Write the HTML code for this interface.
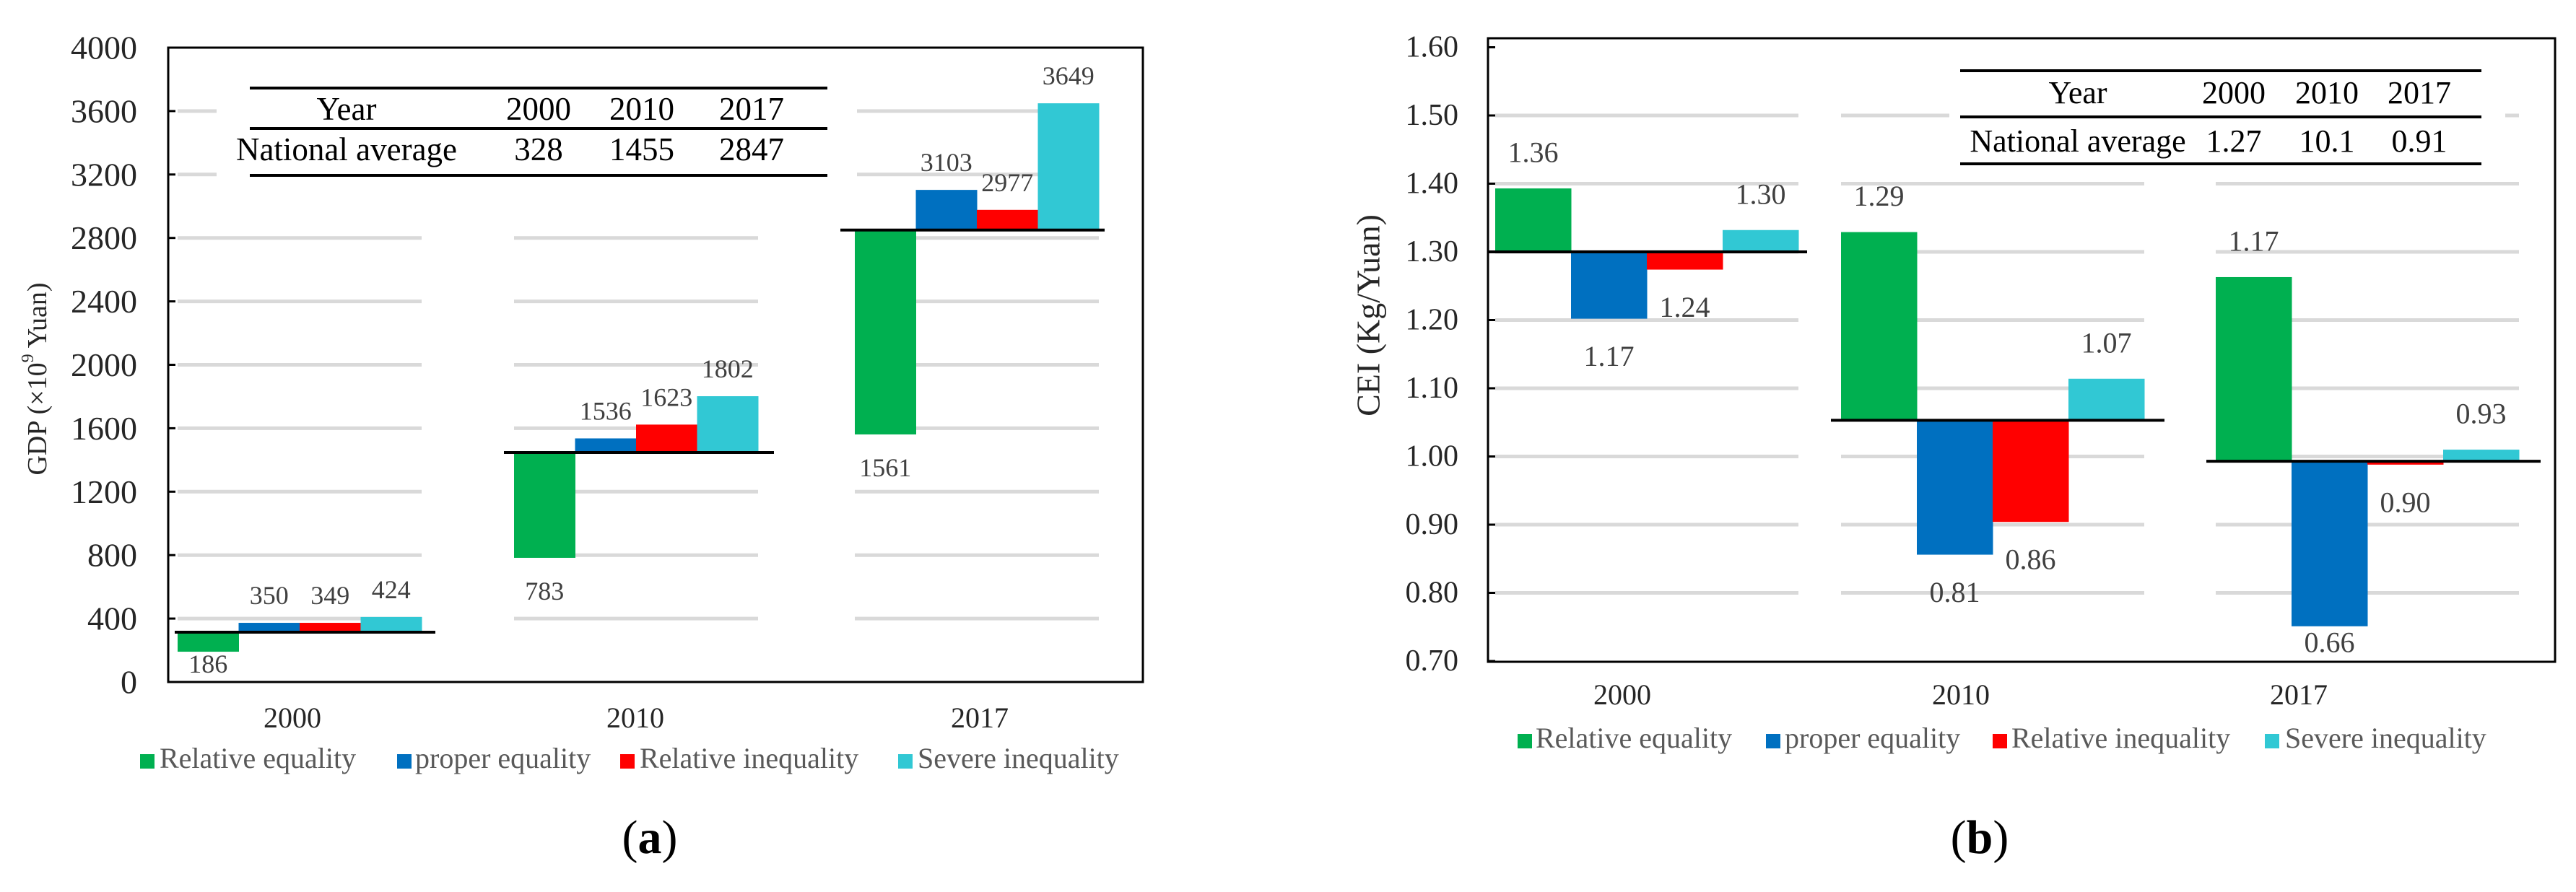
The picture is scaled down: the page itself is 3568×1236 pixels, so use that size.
<!DOCTYPE html>
<html><head><meta charset="utf-8"><style>
html,body{margin:0;padding:0;background:#fff;}
svg{display:block;}
svg text{font-family:"Liberation Serif","Times New Roman",serif;}
</style></head><body>
<svg id="fig" width="3568" height="1236" viewBox="0 0 3568 1236" xmlns="http://www.w3.org/2000/svg" font-family="Liberation Serif, serif"></svg>
<script>
// ---------- data: chart (a) GDP ----------
const aYears = ["2000","2010","2017"];
const aSeries = ["Relative equality","proper equality","Relative inequality","Severe inequality"];
const aAvg = [314, 1447, 2850];
const aBars = [[191,373,373,410],[783,1536,1623,1802],[1561,3103,2977,3649]];
const aLabels = [["186","350","349","424"],["783","1536","1623","1802"],["1561","3103","2977","3649"]];
const aTicks = [0,400,800,1200,1600,2000,2400,2800,3200,3600,4000];
const aTableYears = ["2000","2010","2017"];
const aTableAvg = ["328","1455","2847"];
// ---------- data: chart (b) CEI ----------
const bYears = ["2000","2010","2017"];
const bAvg = [1.30, 1.053, 0.993];
const bBars = [[1.393,1.202,1.274,1.332],[1.329,0.856,0.904,1.114],[1.263,0.751,0.988,1.010]];
const bLabels = [["1.36","1.17","1.24","1.30"],["1.29","0.81","0.86","1.07"],["1.17","0.66","0.90","0.93"]];
const bTicks = [0.70,0.80,0.90,1.00,1.10,1.20,1.30,1.40,1.50,1.60];
const bTableYears = ["2000","2010","2017"];
const bTableAvg = ["1.27","10.1","0.91"];

const colors = ["#00b050","#0070c0","#ff0000","#31c8d4"];
const NS="http://www.w3.org/2000/svg";
const svg=document.getElementById('fig');
function mk(tag,attrs,parent,text){const e=document.createElementNS(NS,tag);for(const k in attrs)e.setAttribute(k,attrs[k]);if(tag==='text')e.setAttribute('font-family','Liberation Serif, serif');if(text!==undefined)e.textContent=text;(parent||svg).appendChild(e);return e;}

function drawChart(cfg){
  const g=mk('g',{});
  
  
  const y=cfg.y;
  cfg.ticks.forEach((t,ti)=>{
    if(ti===0||t>=cfg.noGridAbove) return;
    cfg.groupX.forEach((gx,gi)=>{
      const l=mk('line',{x1:gx,x2:gx+cfg.bw*4,y1:y(t),y2:y(t),stroke:'#d9d9d9','stroke-width':5},g);
      
      
    });
  });
  // table white background
  const tb=mk('rect',{x:cfg.table.wx0,y:cfg.table.y0-4,width:cfg.table.wx1-cfg.table.wx0,height:cfg.table.y2-cfg.table.y0+10,fill:'#fff'},g);
  
  
  cfg.bars.forEach((grp,gi)=>{
    const base=cfg.avg[gi];
    grp.forEach((v,si)=>{
      const x=cfg.groupX[gi]+si*cfg.bw;
      const top=Math.min(y(v),y(base)), bot=Math.max(y(v),y(base));
      const r=mk('rect',{x:x,y:top,width:cfg.bw+0.5,height:Math.max(bot-top,1),fill:colors[si]},g);
      
      
      const above=v>=base;
      let ly=above? top-cfg.labUp : bot+cfg.labDown;
      ly=Math.min(ly,cfg.labMax);
      const t=mk('text',{x:x+cfg.bw/2,y:ly,'text-anchor':'middle','dominant-baseline':'central','font-size':cfg.labSize,fill:'#404040'},g,cfg.labels[gi][si]);
      
      
    });
    const al=mk('line',{x1:cfg.avgLine[gi][0],x2:cfg.avgLine[gi][1],y1:y(base),y2:y(base),stroke:'#000','stroke-width':4},g);
    
    
  });
  const fr=mk('rect',{x:cfg.fx0,y:cfg.fy0,width:cfg.fx1-cfg.fx0,height:cfg.fy1-cfg.fy0,fill:'none',stroke:'#000','stroke-width':3},g);
  
  
  cfg.ticks.forEach(t=>{
    const tk=mk('line',{x1:cfg.fx0,x2:cfg.fx0+10,y1:y(t),y2:y(t),stroke:'#000','stroke-width':3},g);
    
    
    const tl=mk('text',{x:cfg.tickX,y:y(t),'text-anchor':'end','dominant-baseline':'central','font-size':cfg.tickSize,fill:'#262626'},g,cfg.fmt(t));
    
    
  });
  const yt=mk('text',{x:0,y:0,transform:`translate(${cfg.ytx},${cfg.yty}) rotate(-90)`,'text-anchor':'middle','dominant-baseline':'central','font-size':cfg.ytSize,fill:'#262626'},g);
  
  
  yt.innerHTML=cfg.ytitle;
  cfg.years.forEach((yr,gi)=>{
    const xl=mk('text',{x:cfg.xlab[gi],y:cfg.xlabY,'text-anchor':'middle','font-size':40,fill:'#262626'},g,yr);
    
    
  });
  const T=cfg.table;
  [T.y0,T.y1,T.y2].forEach(ly=>{const l=mk('line',{x1:T.x0,x2:T.x1,y1:ly,y2:ly,stroke:'#000','stroke-width':4},g);
    
    });
  const tt=(x,yy,s)=>{const e=mk('text',{x:x,y:yy,'text-anchor':'middle','font-size':T.size,fill:'#000'},g,s);
    
    };
  tt(T.c0,T.r0,'Year');tt(T.c0,T.r1,'National average');
  cfg.tYears.forEach((s,i)=>tt(T.cols[i],T.r0,s));
  cfg.tAvg.forEach((s,i)=>tt(T.cols[i],T.r1,s));
  aSeries.forEach((s,i)=>{
    const L=cfg.legend[i];
    const sq=mk('rect',{x:L[0],y:cfg.legY-19,width:20,height:20,fill:colors[i]},g);
    
    
    const lt=mk('text',{x:L[1],y:cfg.legY,'font-size':40,fill:'#595959'},g,s);
    
    
  });
  const cap=mk('text',{x:cfg.capX,y:1182,'text-anchor':'middle','font-size':66,fill:'#000'},g);
  
  
  cap.innerHTML=cfg.cap;
}

drawChart({name:'chart-gdp',years:aYears,bars:aBars,avg:aAvg,labels:aLabels,ticks:aTicks,
  y:v=>945-v*0.21975,noGridAbove:4000,groupX:[246,712,1184],bw:84.5,
  avgLine:[[242,603],[698,1072],[1164,1530]],
  labUp:38,labDown:46,labMax:920,labSize:36,
  fx0:233,fy0:66,fx1:1583,fy1:945,tickX:190,tickSize:46,fmt:t=>String(t),
  ytx:52,yty:525,ytSize:38,ytitle:'GDP (×10<tspan baseline-shift="super" font-size="24">9</tspan> Yuan)',
  xlab:[405,880,1357],xlabY:1008,
  table:{x0:346,x1:1146,wx0:300,wx1:1187,y0:122,y1:178,y2:243,size:45,c0:480,r0:166,r1:222,cols:[746,889,1041]},
  tYears:aTableYears,tAvg:aTableAvg,
  legend:[[194,221],[550,575],[859,886],[1244,1271]],legY:1064,capX:900,
  cap:'(<tspan font-weight="bold">a</tspan>)'});

drawChart({name:'chart-cei',years:bYears,bars:bBars,avg:bAvg,labels:bLabels,ticks:bTicks,
  y:v=>349-(v-1.30)*945,noGridAbove:1.6,groupX:[2071,2550,3069],bw:105,
  avgLine:[[2061,2503],[2536,2998],[3056,3519]],
  labUp:50,labDown:52,labMax:890,labSize:40,
  fx0:2061,fy0:53,fx1:3539,fy1:917,tickX:2020,tickSize:42,fmt:t=>t.toFixed(2),
  ytx:1895,yty:437,ytSize:46,ytitle:'CEI (Kg/Yuan)',
  xlab:[2247,2716,3184],xlabY:976,
  table:{x0:2715,x1:3437,wx0:2700,wx1:3470,y0:98,y1:162,y2:227,size:44,c0:2878,r0:143,r1:210,cols:[3094,3223,3351]},
  tYears:bTableYears,tAvg:bTableAvg,
  legend:[[2102,2127],[2446,2472],[2760,2786],[3137,3165]],legY:1036,capX:2742,
  cap:'(<tspan font-weight="bold">b</tspan>)'});
</script>
</body></html>
